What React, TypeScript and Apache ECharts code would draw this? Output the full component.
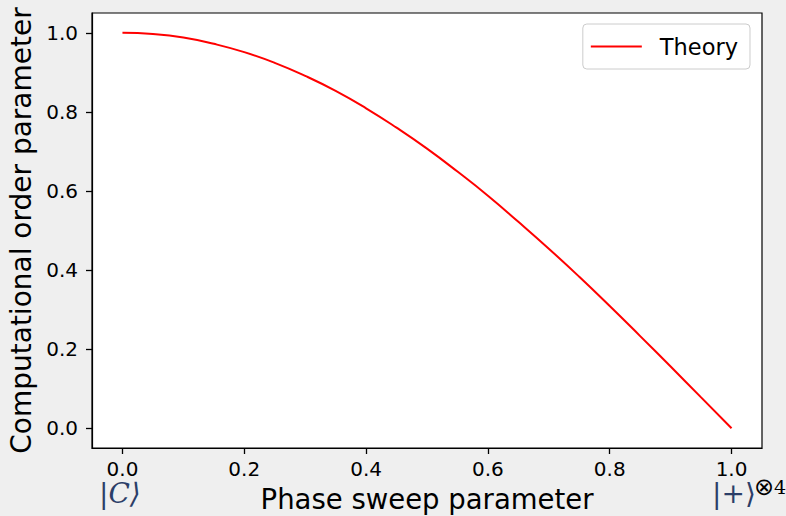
import React, { useEffect, useRef } from "react";
import * as echarts from "echarts";

const xValues = [0, 0.05, 0.1, 0.15, 0.2, 0.25, 0.3, 0.35, 0.4, 0.45, 0.5, 0.55, 0.6, 0.65, 0.7, 0.75, 0.8, 0.85, 0.9, 0.95, 1.0];
const theoryValues = [1.0, 0.997, 0.988, 0.972, 0.951, 0.924, 0.891, 0.853, 0.809, 0.76, 0.707, 0.649, 0.588, 0.522, 0.454, 0.383, 0.309, 0.233, 0.156, 0.078, 0.0];
const tickValues = [0, 0.2, 0.4, 0.6, 0.8, 1.0];
const seriesName = "Theory";
const xTitle = "Phase sweep parameter";
const yTitle = "Computational order parameter";

export default function App() {
  const ref = useRef<HTMLDivElement>(null);
  useEffect(() => {
    if (!ref.current) return;
    const chart = echarts.init(ref.current, undefined, { renderer: "svg" });
    const font = "DejaVu Sans";
    const math = "#2b3e68";
    const axisCommon = {
      type: "value",
      min: -0.05,
      max: 1.05,
      splitLine: { show: false },
      axisLine: { show: true, onZero: false, lineStyle: { color: "#000", width: 1.2 } },
      axisTick: { show: true, inside: false, length: 6, customValues: tickValues, lineStyle: { color: "#000", width: 1.3 } },
      nameLocation: "middle",
      nameMoveOverlap: false,
    };
    const labelCommon = {
      customValues: tickValues,
      formatter: (v: number) => v.toFixed(1),
      fontFamily: font,
      fontSize: 20,
      color: "#000",
    };
    chart.setOption({
      animation: false,
      backgroundColor: "#efefef",
      grid: {
        left: 92,
        right: 24,
        top: 13,
        bottom: 68,
        outerBoundsMode: "none",
        containLabel: false,
        show: true,
        backgroundColor: "#ffffff",
        borderColor: "#000000",
        borderWidth: 1.2,
      },
      legend: {
        right: 36,
        top: 24,
        orient: "vertical",
        backgroundColor: "#ffffff",
        borderColor: "#cccccc",
        borderWidth: 1,
        borderRadius: 4,
        padding: [11, 12, 11, 8],
        itemWidth: 51,
        itemHeight: 2,
        icon: "rect",
        textStyle: { fontFamily: font, fontSize: 22.5, color: "#000", padding: [0, 0, 0, 13] },
        data: [{ name: seriesName, itemStyle: { color: "#ff0000" } }],
      },
      xAxis: {
        ...axisCommon,
        axisLabel: { ...labelCommon, margin: 11 },
        name: xTitle,
        nameGap: 37,
        nameTextStyle: { fontFamily: font, fontSize: 27.5, color: "#000" },
      },
      yAxis: {
        ...axisCommon,
        axisLabel: { ...labelCommon, margin: 14 },
        name: yTitle,
        nameRotate: 90,
        nameGap: 57,
        nameTextStyle: { fontFamily: font, fontSize: 28, color: "#000" },
      },
      series: [
        {
          name: seriesName,
          type: "line",
          data: xValues.map((x, i) => [x, theoryValues[i]]),
          showSymbol: false,
          smooth: true,
          lineStyle: { color: "#ff0000", width: 2 },
          itemStyle: { color: "#ff0000" },
        },
      ],
      graphic: [
        {
          type: "text",
          left: 99,
          top: 479,
          style: { text: "|C⟩", font: "italic 28px 'DejaVu Serif'", fill: math },
        },
        {
          type: "text",
          left: 712,
          top: 479,
          style: { text: "|+⟩", font: "28px 'DejaVu Serif'", fill: math },
        },
        {
          type: "text",
          left: 754,
          top: 475,
          style: {
            text: "{o|⊗}{n|4}",
            rich: {
              o: { fontFamily: "DejaVu Sans", fontSize: 24, color: math },
              n: { fontFamily: "DejaVu Serif", fontSize: 19, color: math },
            },
          },
        },
      ],
    });
    return () => chart.dispose();
  }, []);
  return (
    <div
      ref={ref}
      style={{ position: "fixed", left: 0, top: 0, width: 786, height: 516 }}
    />
  );
}
